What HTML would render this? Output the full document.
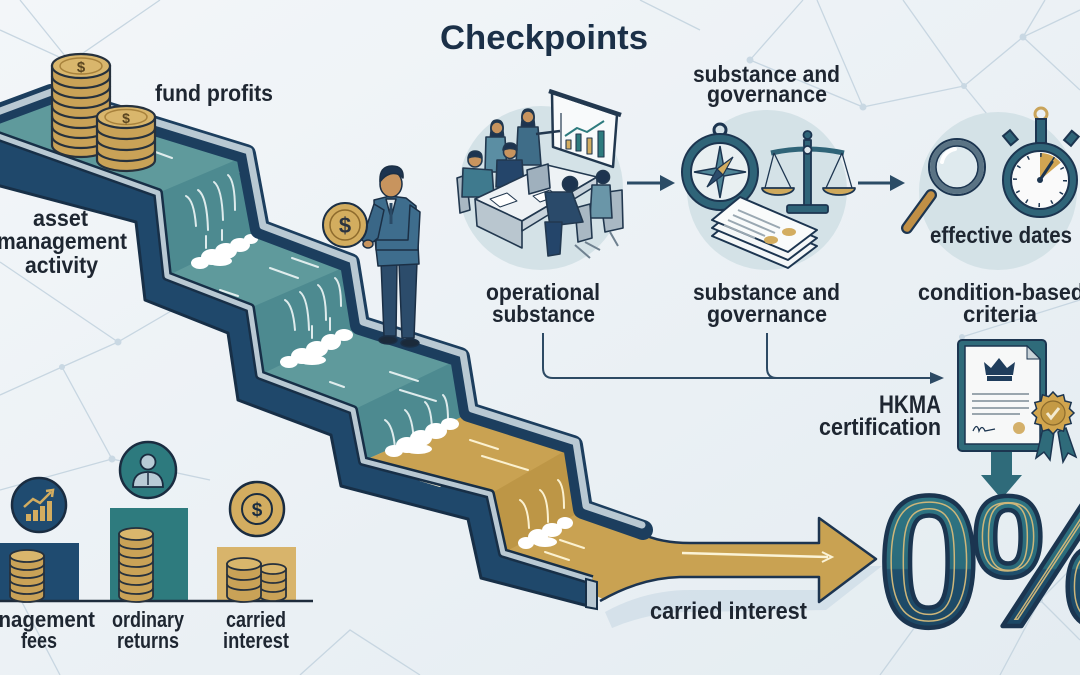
<!DOCTYPE html>
<html><head><meta charset="utf-8"><style>
html,body{margin:0;padding:0;width:1080px;height:675px;overflow:hidden;background:#eef3f6}
svg{display:block}
text{font-family:"Liberation Sans",Arial,sans-serif;font-weight:bold}
</style></head><body>
<svg width="1080" height="675" viewBox="0 0 1080 675" xmlns="http://www.w3.org/2000/svg">
<defs>
<linearGradient id="bg" x1="0" y1="0" x2="1" y2="1">
<stop offset="0" stop-color="#f3f6f9"/><stop offset="1" stop-color="#e4ecf1"/></linearGradient>
<linearGradient id="zg" gradientUnits="userSpaceOnUse" x1="0" y1="490" x2="0" y2="630">
<stop offset="0" stop-color="#2f7684"/><stop offset="0.56" stop-color="#2a6b7b"/><stop offset="0.57" stop-color="#1f4f6c"/><stop offset="1" stop-color="#1c4764"/></linearGradient>
<clipPath id="zc"><text x="877" y="626" font-size="187" letter-spacing="-10">0%</text></clipPath>
</defs>
<rect width="1080" height="675" fill="url(#bg)"/>

<!-- network lines -->
<g stroke="#c7d6e1" stroke-width="1.3" fill="none">
<path d="M0,30 L70,62 L160,0 M70,62 L20,0 M0,262 L118,342 L62,367 L0,395 M62,367 L112,459 L0,490 M112,459 L210,480 M118,342 L190,300 M0,560 L60,675 M300,675 L350,630 L420,675 M750,60 L803,0 M750,60 L863,107 L817,0 M863,107 L964,86 L903,0 M964,86 L1023,37 L1080,10 M1023,37 L1045,0 M1023,37 L1080,90 M964,86 L1000,130 M962,337 L1080,300 M962,337 L1010,460 M1000,675 L1040,600 L1080,560 M1040,600 L1080,640 M880,675 L920,620 M640,0 L700,30"/>
</g>
<g fill="#c9d8e3">
<circle cx="70" cy="62" r="3"/><circle cx="118" cy="342" r="3.5"/><circle cx="62" cy="367" r="3"/><circle cx="112" cy="459" r="3.5"/><circle cx="750" cy="60" r="3.5"/><circle cx="863" cy="107" r="3.5"/><circle cx="964" cy="86" r="3"/><circle cx="1023" cy="37" r="3.5"/><circle cx="962" cy="337" r="3"/><circle cx="1040" cy="600" r="3"/>
</g>

<!-- ===== STAIRCASE ===== -->
<path d="M605,612 Q645,590 690,590 L823,590 L823,566 L882,566 L826,610 L690,612 Q650,612 612,628 Z" fill="#cfdde7" opacity="0.8"/>
<polygon points="-30,126 158,193 167,276 250,308 260,375 353,410 363,461 490,494 503,553 592,580 592,607 481,578 468,519 341,486 331,435 238,400 228,333 145,300 136,222 -30,178" fill="#1f486b" stroke="#172f47" stroke-width="3" stroke-linejoin="round"/>
<polygon points="48,97 243,157 257,232 347,266 357,328 457,360 466,415 363,461 353,410 260,375 250,308 167,276 158,193 -30,126" fill="#5f9a9c"/>
<g fill="#4d8a90">
<polygon points="243,157 257,232 167,276 158,193"/>
<polygon points="347,266 357,328 260,375 250,308"/>
<polygon points="457,360 466,415 363,461 353,410"/>
</g>
<path d="M466,415 L570,448 L580,512 L640,533 Q660,543 690,543 L819,543 L819,518 L876,559 L819,602 L819,577 L680,577 Q640,578 605,600 L592,594 L592,580 L503,553 L490,494 L363,461 Z" fill="#c9a252"/>
<polygon points="570,448 580,512 503,553 490,494" fill="#bd9646"/>
<path d="M640,533 Q660,543 690,543 L819,543 L819,518 L876,559 L819,602 L819,577 L680,577 Q640,578 600,601" fill="none" stroke="#1c3450" stroke-width="2.5" stroke-linejoin="round"/>
<path d="M682,553 L828,557" stroke="#fbf3d6" stroke-width="2.5" fill="none"/>
<path d="M822,552 L832,557 L822,562" stroke="#fbf3d6" stroke-width="2" fill="none"/>

<g stroke="#eef6f6" stroke-width="2" fill="none" stroke-linecap="round" opacity="0.9">
<path d="M150,150 l22,8 M172,135 l28,10 M120,152 l12,4"/>
<path d="M186,196 q8,4 10,30 M198,190 q9,6 10,40 M214,182 q8,6 9,38 M228,175 q7,6 7,35 M240,172 q5,5 5,25 M206,236 v12 M222,230 v10"/>
<path d="M270,268 l28,10 M292,258 l26,9 M220,290 l18,6"/>
<path d="M285,300 q8,5 10,30 M300,292 q8,6 9,38 M318,285 q8,6 8,35 M335,278 q6,5 6,28 M312,326 v12 M330,318 v12"/>
<path d="M390,372 l28,9 M400,390 l36,11 M330,382 l14,5"/>
<path d="M385,420 q8,5 10,28 M405,410 q8,6 9,35 M425,402 q7,6 7,32 M443,395 q5,5 5,25"/>
</g>
<g stroke="#fbf1d0" stroke-width="2" fill="none" stroke-linecap="round">
<path d="M470,440 l28,9 M482,456 l46,14 M420,480 l20,6"/>
<path d="M520,500 q8,5 9,28 M540,490 q8,6 8,32 M558,480 q6,5 6,28"/>
<path d="M560,540 l24,8 M545,552 l24,8"/>
</g>
<g fill="#ffffff">
<ellipse cx="200" cy="263" rx="9" ry="6"/><ellipse cx="212" cy="257" rx="11" ry="8"/><ellipse cx="226" cy="251" rx="11" ry="8"/><ellipse cx="240" cy="245" rx="10" ry="7"/><ellipse cx="251" cy="239" rx="7" ry="5"/><ellipse cx="220" cy="261" rx="12" ry="5"/>
<ellipse cx="289" cy="362" rx="9" ry="6"/><ellipse cx="302" cy="356" rx="11" ry="8"/><ellipse cx="317" cy="349" rx="11" ry="8"/><ellipse cx="331" cy="342" rx="10" ry="8"/><ellipse cx="344" cy="335" rx="9" ry="6"/><ellipse cx="312" cy="360" rx="14" ry="5"/>
<ellipse cx="394" cy="451" rx="9" ry="6"/><ellipse cx="407" cy="445" rx="11" ry="8"/><ellipse cx="421" cy="438" rx="11" ry="8"/><ellipse cx="436" cy="431" rx="11" ry="8"/><ellipse cx="450" cy="424" rx="9" ry="6"/><ellipse cx="418" cy="449" rx="14" ry="5"/>
<ellipse cx="526" cy="543" rx="8" ry="6"/><ellipse cx="538" cy="537" rx="10" ry="8"/><ellipse cx="552" cy="530" rx="10" ry="7"/><ellipse cx="565" cy="523" rx="8" ry="6"/><ellipse cx="545" cy="542" rx="12" ry="5"/>
</g>
<path d="M-30,126 L158,193 L167,276 L250,308 L260,375 L353,410 L363,461 L490,494 L503,553 L592,580" fill="none" stroke="#172f47" stroke-width="10" stroke-linejoin="round"/>
<path d="M-30,126 L158,193 L167,276 L250,308 L260,375 L353,410 L363,461 L490,494 L503,553 L592,580" fill="none" stroke="#b9c9d3" stroke-width="5" stroke-linejoin="round"/>
<polygon points="586,579 597,582 597,609 586,607" fill="#b9c9d3" stroke="#172f47" stroke-width="2"/>
<path transform="translate(3,-3)" d="M-30,126 L48,97 L243,157 L257,232 L347,266 L357,328 L457,360 L466,415 L570,448 L580,512 L640,533" fill="none" stroke="#1c3e5e" stroke-width="20" stroke-linejoin="round" stroke-linecap="round"/>
<path transform="translate(6,-6)" d="M-30,126 L48,97 L243,157 L257,232 L347,266 L357,328 L457,360 L466,415 L570,448 L580,512 L636,531" fill="none" stroke="#b9c9d3" stroke-width="7" stroke-linejoin="round" stroke-linecap="round"/>

<!-- coin stacks top -->
<g stroke="#26313d" stroke-width="2.2">
<path d="M52,66 V145 A29,12 0 0 0 110,145 V66 Z" fill="#c9a257"/>
<path d="M52,76 A29,12 0 0 0 110,76 M52,86 A29,12 0 0 0 110,86 M52,96 A29,12 0 0 0 110,96 M52,106 A29,12 0 0 0 110,106 M52,116 A29,12 0 0 0 110,116 M52,126 A29,12 0 0 0 110,126 M52,136 A29,12 0 0 0 110,136" fill="none"/>
<ellipse cx="81" cy="66" rx="29" ry="12" fill="#d9b66c"/>
<ellipse cx="81" cy="66" rx="21" ry="8" fill="none" stroke="#a8823c" stroke-width="1.5"/>
<path d="M97,117 V160 A29,11 0 0 0 155,160 V117 Z" fill="#c9a257"/>
<path d="M97,128 A29,11 0 0 0 155,128 M97,139 A29,11 0 0 0 155,139 M97,150 A29,11 0 0 0 155,150" fill="none"/>
<ellipse cx="126" cy="117" rx="29" ry="11" fill="#d9b66c"/>
<ellipse cx="126" cy="117" rx="21" ry="7.5" fill="none" stroke="#a8823c" stroke-width="1.5"/>
</g>
<text x="81" y="72" font-size="15" fill="#5a4520" text-anchor="middle">$</text>
<text x="126" y="123" font-size="14" fill="#5a4520" text-anchor="middle">$</text>

<!-- man -->
<g stroke="#1b2f45" stroke-width="1.5" stroke-linejoin="round">
<polygon points="381,262 397,262 396,336 384,336" fill="#2c4c6b"/>
<polygon points="399,262 417,262 414,338 402,338" fill="#2c4c6b"/>
<ellipse cx="388" cy="340" rx="9" ry="4" fill="#1b2a3a"/>
<ellipse cx="410" cy="343" rx="9" ry="4" fill="#1b2a3a"/>
<polygon points="374,200 390,196 406,198 416,206 419,264 378,266 375,240" fill="#3e6d8d"/>
<polygon points="386,199 396,199 391,218" fill="#e6ecef"/>
<polygon points="410,205 420,212 418,250 376,250 376,240 408,240" fill="#3e6d8d"/>
<polygon points="374,204 384,210 378,238 368,246 362,240" fill="#3a6787"/>
<circle cx="345" cy="225" r="22" fill="#d3ad5f" stroke-width="2"/>
<circle cx="345" cy="225" r="15" fill="none" stroke="#8d6a2c"/>
<ellipse cx="368" cy="244" rx="5" ry="4" fill="#c8945e"/>
<ellipse cx="391" cy="184" rx="11" ry="13" fill="#c8945e"/>
<path d="M380,182 Q379,166 392,166 Q404,166 403,178 Q398,172 390,174 Q384,176 380,182Z" fill="#1d3450"/>
</g>
<path d="M391,203 L391,224" stroke="#2a4a66" stroke-width="3"/>
<text x="345" y="233" font-size="22" fill="#2b3340" text-anchor="middle">$</text>

<!-- ===== BOTTOM LEFT BARS ===== -->
<rect x="-2" y="543" width="81" height="58" fill="#1f4b70"/>
<rect x="110" y="508" width="78" height="93" fill="#2e7b7e"/>
<rect x="217" y="547" width="79" height="54" fill="#d8b46b"/>
<line x1="0" y1="601" x2="313" y2="601" stroke="#1e2c3c" stroke-width="2.5"/>
<g stroke="#26313d" stroke-width="1.8">
<path d="M10,556 V596 A17,6 0 0 0 44,596 V556 Z" fill="#c9a257"/>
<path d="M10,564 A17,6 0 0 0 44,564 M10,572 A17,6 0 0 0 44,572 M10,580 A17,6 0 0 0 44,580 M10,588 A17,6 0 0 0 44,588" fill="none"/>
<ellipse cx="27" cy="556" rx="17" ry="6" fill="#d9b66c"/>
<path d="M119,534 V596 A17,6 0 0 0 153,596 V534 Z" fill="#c9a257"/>
<path d="M119,543 A17,6 0 0 0 153,543 M119,552 A17,6 0 0 0 153,552 M119,561 A17,6 0 0 0 153,561 M119,570 A17,6 0 0 0 153,570 M119,579 A17,6 0 0 0 153,579 M119,588 A17,6 0 0 0 153,588" fill="none"/>
<ellipse cx="136" cy="534" rx="17" ry="6" fill="#d9b66c"/>
<path d="M260,569 V596 A13,5 0 0 0 286,596 V569 Z" fill="#c9a257"/>
<path d="M260,578 A13,5 0 0 0 286,578 M260,587 A13,5 0 0 0 286,587" fill="none"/>
<ellipse cx="273" cy="569" rx="13" ry="5" fill="#d9b66c"/>
<path d="M227,564 V596 A17,6 0 0 0 261,596 V564 Z" fill="#c9a257"/>
<path d="M227,574 A17,6 0 0 0 261,574 M227,584 A17,6 0 0 0 261,584" fill="none"/>
<ellipse cx="244" cy="564" rx="17" ry="6" fill="#d9b66c"/>
</g>
<circle cx="39" cy="505" r="27" fill="#1f4b70" stroke="#1a2c40" stroke-width="2.5"/>
<g fill="#d3ad60"><rect x="26" y="514" width="5" height="7"/><rect x="33" y="510" width="5" height="11"/><rect x="40" y="506" width="5" height="15"/><rect x="47" y="501" width="5" height="20"/></g>
<path d="M24,507 L33,499 L40,503 L51,492" stroke="#d3ad60" stroke-width="2.5" fill="none"/>
<path d="M46,491 L53,490 L52,497" stroke="#d3ad60" stroke-width="2.5" fill="none"/>
<circle cx="148" cy="470" r="28" fill="#2d7a7e" stroke="#1a2c40" stroke-width="2.5"/>
<circle cx="148" cy="462" r="7.5" fill="#b8cbd6" stroke="#1a2c40" stroke-width="1.8"/>
<path d="M133,487 Q133,472 148,472 Q163,472 163,487 Z" fill="#b8cbd6" stroke="#1a2c40" stroke-width="1.8"/>
<path d="M148,473 L148,485" stroke="#1a2c40" stroke-width="1.5"/>
<circle cx="257" cy="509" r="27" fill="#d3ad60" stroke="#1a2c40" stroke-width="2.5"/>
<circle cx="257" cy="509" r="15" fill="none" stroke="#1a2c40" stroke-width="2"/>
<text x="257" y="516" font-size="19" fill="#1a2c40" text-anchor="middle">$</text>

<!-- ===== CHECKPOINT ICONS ===== -->
<circle cx="541" cy="188" r="82" fill="#d4e2e7"/>
<circle cx="767" cy="190" r="80" fill="#d4e2e7"/>
<circle cx="998" cy="191" r="79" fill="#d4e2e7"/>

<!-- meeting -->
<g stroke="#22384f" stroke-width="1.6" stroke-linejoin="round">
<polygon points="552,93 617,115 613,167 553,147" fill="#f8fafb" stroke-width="2.5"/>
<line x1="549" y1="91" x2="621" y2="115" stroke-width="4.5"/>
<line x1="561" y1="113" x2="561" y2="150" stroke-width="1.2"/>
<g stroke-width="1.1"><rect x="566" y="140" width="5" height="9" fill="#d3ad60"/><rect x="576" y="134" width="5" height="17" fill="#2e7b7e"/><rect x="587" y="138" width="5" height="16" fill="#d3ad60"/><rect x="598" y="131" width="6" height="26" fill="#2e7b7e"/></g>
<path d="M565,136 L577,128 L587,132 L604,121" fill="none" stroke="#2e7b7e" stroke-width="2"/>
<polygon points="457,178 466,175 470,210 460,213" fill="#a9b8c3"/>
<path d="M491,131 Q490,120 497,120 Q504,120 503,131 L504,140 L490,140Z" fill="#1d3450"/>
<circle cx="497" cy="128" r="6" fill="#c8945e"/>
<polygon points="486,137 505,137 507,172 485,172" fill="#5b8ea3"/>
<path d="M522,120 Q521,109 528,109 Q535,109 534,120 L535,130 L521,130Z" fill="#1d3450"/>
<circle cx="528" cy="117" r="6" fill="#c8945e"/>
<polygon points="518,127 538,127 541,165 516,165" fill="#3f6d88"/>
<line x1="536" y1="134" x2="560" y2="131" stroke-width="2.5"/>
<circle cx="510" cy="152" r="6.5" fill="#c8945e"/>
<path d="M503,150 Q504,143 510,143 Q517,143 517,150 Q510,147 503,150Z" fill="#1d3450"/>
<polygon points="497,160 522,160 524,187 496,187" fill="#24456a"/>
<circle cx="475" cy="160" r="7" fill="#c8945e"/>
<path d="M468,158 Q469,151 475,151 Q482,151 482,158 Q475,155 468,158Z" fill="#1d3450"/>
<polygon points="463,168 492,170 494,197 462,197" fill="#3f7a8e"/>
<polygon points="475,199 547,165 597,177 522,221" fill="#eef2f5"/>
<polygon points="475,199 522,221 522,248 477,226" fill="#b9c6cf"/>
<polygon points="522,221 597,177 597,185 522,231" fill="#c8d3db"/>
<polygon points="527,170 548,164 550,188 529,194" fill="#9fb0bd"/>
<polygon points="490,199 507,193 517,201 500,207" fill="#ffffff" stroke-width="1"/>
<polygon points="533,196 550,190 557,196 540,202" fill="#ffffff" stroke-width="1"/>
<polygon points="600,193 622,190 623,228 605,232" fill="#a9b8c3"/>
<polygon points="592,185 610,185 612,218 590,218" fill="#6a96a8"/>
<circle cx="603" cy="177" r="6.5" fill="#1d3450"/>
<polygon points="575,208 590,204 592,238 578,242" fill="#a9b8c3"/>
<polygon points="545,192 572,192 583,222 550,226" fill="#2a4a6a"/>
<circle cx="570" cy="184" r="7.5" fill="#1d3450"/>
<polygon points="545,222 562,222 560,254 548,256" fill="#24456a"/>
<path d="M575,245 L590,258 M585,242 L600,250 M610,232 L618,246" fill="none" stroke="#6f8190" stroke-width="2"/>
</g>

<!-- compass -->
<g stroke="#1c3550" stroke-width="2">
<circle cx="720" cy="130" r="6" fill="none" stroke-width="3"/>
<circle cx="720" cy="172" r="38" fill="#2f6478"/>
<circle cx="720" cy="172" r="29" fill="#e8eff1"/>
<polygon points="720,146 724,168 746,172 724,176 720,198 716,176 694,172 716,168" fill="#4f8597" stroke-width="1.5"/>
<polygon points="733,157 723,175 717,169" fill="#d3ad60" stroke-width="1.2"/>
<polygon points="707,187 717,169 723,175" fill="#2c4c6b" stroke-width="1.2"/>
</g>
<!-- scale -->
<g stroke="#1c3550" stroke-width="1.8" stroke-linejoin="round">
<rect x="804" y="140" width="7" height="68" fill="#2f6478"/>
<circle cx="807.5" cy="135" r="4" fill="#2f6478"/>
<path d="M771,153 Q807,145 844,153" fill="none" stroke="#2f6478" stroke-width="5"/>
<circle cx="807.5" cy="150" r="4" fill="#dfe8ec"/>
<path d="M774,153 L765,188 M774,153 L791,188 M842,153 L826,188 M842,153 L852,188" fill="none" stroke-width="1.3"/>
<path d="M762,188 A16,7 0 0 0 794,188 Z" fill="#cfa95c"/>
<path d="M823,188 A16,7 0 0 0 855,188 Z" fill="#cfa95c"/>
<rect x="787" y="205" width="41" height="8" rx="2" fill="#2f6478"/>
</g>
<!-- documents -->
<g stroke="#1c3550" stroke-width="2" stroke-linejoin="round">
<polygon points="712,236 740,213 817,246 788,268" fill="#f4f7f8"/>
<polygon points="712,228 740,205 817,238 788,260" fill="#f4f7f8"/>
<polygon points="712,220 740,197 817,230 788,252" fill="#f9fbfb"/>
</g>
<g stroke="#9aa8b2" stroke-width="2"><path d="M738,210 L780,228 M733,215 L775,233 M728,220 L765,236 M724,225 L755,238"/></g>
<ellipse cx="771" cy="240" rx="7" ry="4" fill="#d3ad60"/>
<ellipse cx="789" cy="232" rx="7" ry="4" fill="#d3ad60"/>

<!-- magnifier -->
<path d="M931,195 L907,228" stroke="#1c3550" stroke-width="12" stroke-linecap="round"/>
<path d="M931,195 L907,228" stroke="#c08f45" stroke-width="7.5" stroke-linecap="round"/>
<circle cx="957" cy="167" r="28" fill="#dfeaee" stroke="#1c3550" stroke-width="2"/>
<circle cx="957" cy="167" r="24" fill="none" stroke="#5a7384" stroke-width="6"/>
<circle cx="957" cy="167" r="21" fill="none" stroke="#1c3550" stroke-width="1.5"/>
<path d="M942,162 A16,16 0 0 1 955,149" stroke="#ffffff" stroke-width="4" fill="none" stroke-linecap="round"/>
<!-- stopwatch -->
<g stroke="#1c3550" stroke-width="2">
<circle cx="1041" cy="114" r="6" fill="none" stroke="#c9a45a" stroke-width="3"/>
<rect x="1036" y="119" width="10" height="24" fill="#2f6478"/>
<rect x="1006" y="132" width="9" height="12" fill="#2f6478" transform="rotate(-40 1010 138)"/>
<rect x="1067" y="132" width="9" height="12" fill="#2f6478" transform="rotate(40 1071 138)"/>
<circle cx="1040" cy="180" r="37" fill="#2f6478"/>
<circle cx="1040" cy="180" r="29" fill="#fafafa"/>
</g>
<path d="M1040,180 L1040,153 A27,27 0 0 1 1060.7,162.6 Z" fill="#d1a552"/>
<circle cx="1040" cy="180" r="25" fill="none" stroke="#1c3550" stroke-width="4" stroke-dasharray="1.5 11.59"/>
<path d="M1040,180 L1052,162" stroke="#1c3550" stroke-width="3" stroke-linecap="round"/>
<circle cx="1040" cy="180" r="3" fill="#1c3550"/>

<!-- arrows between -->
<g fill="#2b4c66">
<rect x="627" y="181.5" width="35" height="3"/><polygon points="660,175 675,183 660,191"/>
<rect x="858" y="181.5" width="34" height="3"/><polygon points="890,175 905,183 890,191"/>
</g>
<g stroke="#2d4a64" stroke-width="2" fill="none">
<path d="M543,333 V368 Q543,378 553,378 H932"/>
<path d="M767,333 V368 Q767,378 777,378"/>
</g>
<polygon points="930,372 944,378 930,384" fill="#2d4a64"/>

<!-- certificate -->
<rect x="958" y="340" width="88" height="111" rx="4" fill="#2f6b7a" stroke="#1c3550" stroke-width="2"/>
<polygon points="965,346 1027,346 1040,359 1040,444 965,444" fill="#f7f8f8" stroke="#1c3550" stroke-width="1.5"/>
<polygon points="1027,346 1027,359 1040,359" fill="#c9d3d9" stroke="#1c3550" stroke-width="1"/>
<polygon points="986,375 984,362 991,368 999,358 1007,368 1015,362 1013,375" fill="#1f3d5c"/>
<rect x="987" y="376" width="25" height="5" fill="#1f3d5c"/>
<g stroke="#9aa6ae" stroke-width="2"><path d="M972,394 H1029 M972,401 H1029 M972,408 H1029 M972,414 H1020"/></g>
<path d="M973,431 q4,-9 6,0 q3,-7 6,0 l10,-2" stroke="#1c3550" stroke-width="1.3" fill="none"/>
<circle cx="1019" cy="428" r="6" fill="#d4b06a"/>
<polygon points="1043,428 1036,458 1044,452 1050,460 1054,432" fill="#2f6b7a" stroke="#1c3550" stroke-width="1.5"/>
<polygon points="1058,432 1063,462 1068,453 1076,457 1066,428" fill="#2f6b7a" stroke="#1c3550" stroke-width="1.5"/>
<polygon points="1074,413 1069.4,417.4 1071.2,423.5 1065,425 1063.5,431.2 1057.4,429.4 1053,434 1048.6,429.4 1042.5,431.2 1041,425 1034.8,423.5 1036.6,417.4 1032,413 1036.6,408.6 1034.8,402.5 1041,401 1042.5,394.8 1048.6,396.6 1053,392 1057.4,396.6 1063.5,394.8 1065,401 1071.2,402.5 1069.4,408.6" fill="#d1a54e" stroke="#1c3550" stroke-width="1.5"/>
<circle cx="1053" cy="413" r="12" fill="#c49a45" stroke="#8a6a2c" stroke-width="1.2"/>
<path d="M1047,413 L1051,418 L1059,408" stroke="#f3ead0" stroke-width="3" fill="none"/>
<rect x="991" y="452" width="21" height="24" fill="#2f6b7a"/>
<polygon points="981,475 1022,475 1001.5,499" fill="#2f6b7a"/>

<!-- 0% -->
<text x="877" y="626" font-size="187" letter-spacing="-10" fill="url(#zg)">0%</text>
<g clip-path="url(#zc)">
<text x="877" y="626" font-size="187" letter-spacing="-10" fill="none" stroke="#cdb67a" stroke-width="15">0%</text>
<text x="877" y="626" font-size="187" letter-spacing="-10" fill="none" stroke="url(#zg)" stroke-width="12">0%</text>
</g>
<text x="877" y="626" font-size="187" letter-spacing="-10" fill="none" stroke="#1b3550" stroke-width="4.5" stroke-linejoin="round">0%</text>

<!-- ===== TEXT ===== -->
<g fill="#1e2631">
<text x="440" y="49" font-size="34" fill="#1b3048" textLength="208" lengthAdjust="spacingAndGlyphs">Checkpoints</text>
<text x="155" y="101" font-size="23" textLength="118" lengthAdjust="spacingAndGlyphs">fund profits</text>
<text x="33" y="226" font-size="23" textLength="55" lengthAdjust="spacingAndGlyphs">asset</text>
<text x="-3" y="249" font-size="23" textLength="130" lengthAdjust="spacingAndGlyphs">management</text>
<text x="25" y="273" font-size="23" textLength="73" lengthAdjust="spacingAndGlyphs">activity</text>
<text x="486" y="300" font-size="23" textLength="114" lengthAdjust="spacingAndGlyphs">operational</text>
<text x="492" y="322" font-size="23" textLength="103" lengthAdjust="spacingAndGlyphs">substance</text>
<text x="693" y="82" font-size="23" textLength="147" lengthAdjust="spacingAndGlyphs">substance and</text>
<text x="707" y="102" font-size="23" textLength="120" lengthAdjust="spacingAndGlyphs">governance</text>
<text x="693" y="300" font-size="23" textLength="147" lengthAdjust="spacingAndGlyphs">substance and</text>
<text x="707" y="322" font-size="23" textLength="120" lengthAdjust="spacingAndGlyphs">governance</text>
<text x="930" y="243" font-size="23" textLength="142" lengthAdjust="spacingAndGlyphs">effective dates</text>
<text x="918" y="300" font-size="23" textLength="166" lengthAdjust="spacingAndGlyphs">condition-based</text>
<text x="963" y="322" font-size="23" textLength="74" lengthAdjust="spacingAndGlyphs">criteria</text>
<text x="879" y="413" font-size="25" textLength="62" lengthAdjust="spacingAndGlyphs">HKMA</text>
<text x="819" y="435" font-size="24" textLength="122" lengthAdjust="spacingAndGlyphs">certification</text>
<text x="650" y="619" font-size="24" textLength="157" lengthAdjust="spacingAndGlyphs">carried interest</text>
<text x="-31" y="627" font-size="22" textLength="126" lengthAdjust="spacingAndGlyphs">management</text>
<text x="21" y="648" font-size="22" textLength="36" lengthAdjust="spacingAndGlyphs">fees</text>
<text x="112" y="627" font-size="22" textLength="72" lengthAdjust="spacingAndGlyphs">ordinary</text>
<text x="117" y="648" font-size="22" textLength="62" lengthAdjust="spacingAndGlyphs">returns</text>
<text x="226" y="627" font-size="22" textLength="60" lengthAdjust="spacingAndGlyphs">carried</text>
<text x="223" y="648" font-size="22" textLength="66" lengthAdjust="spacingAndGlyphs">interest</text>
</g>
</svg>
</body></html>
